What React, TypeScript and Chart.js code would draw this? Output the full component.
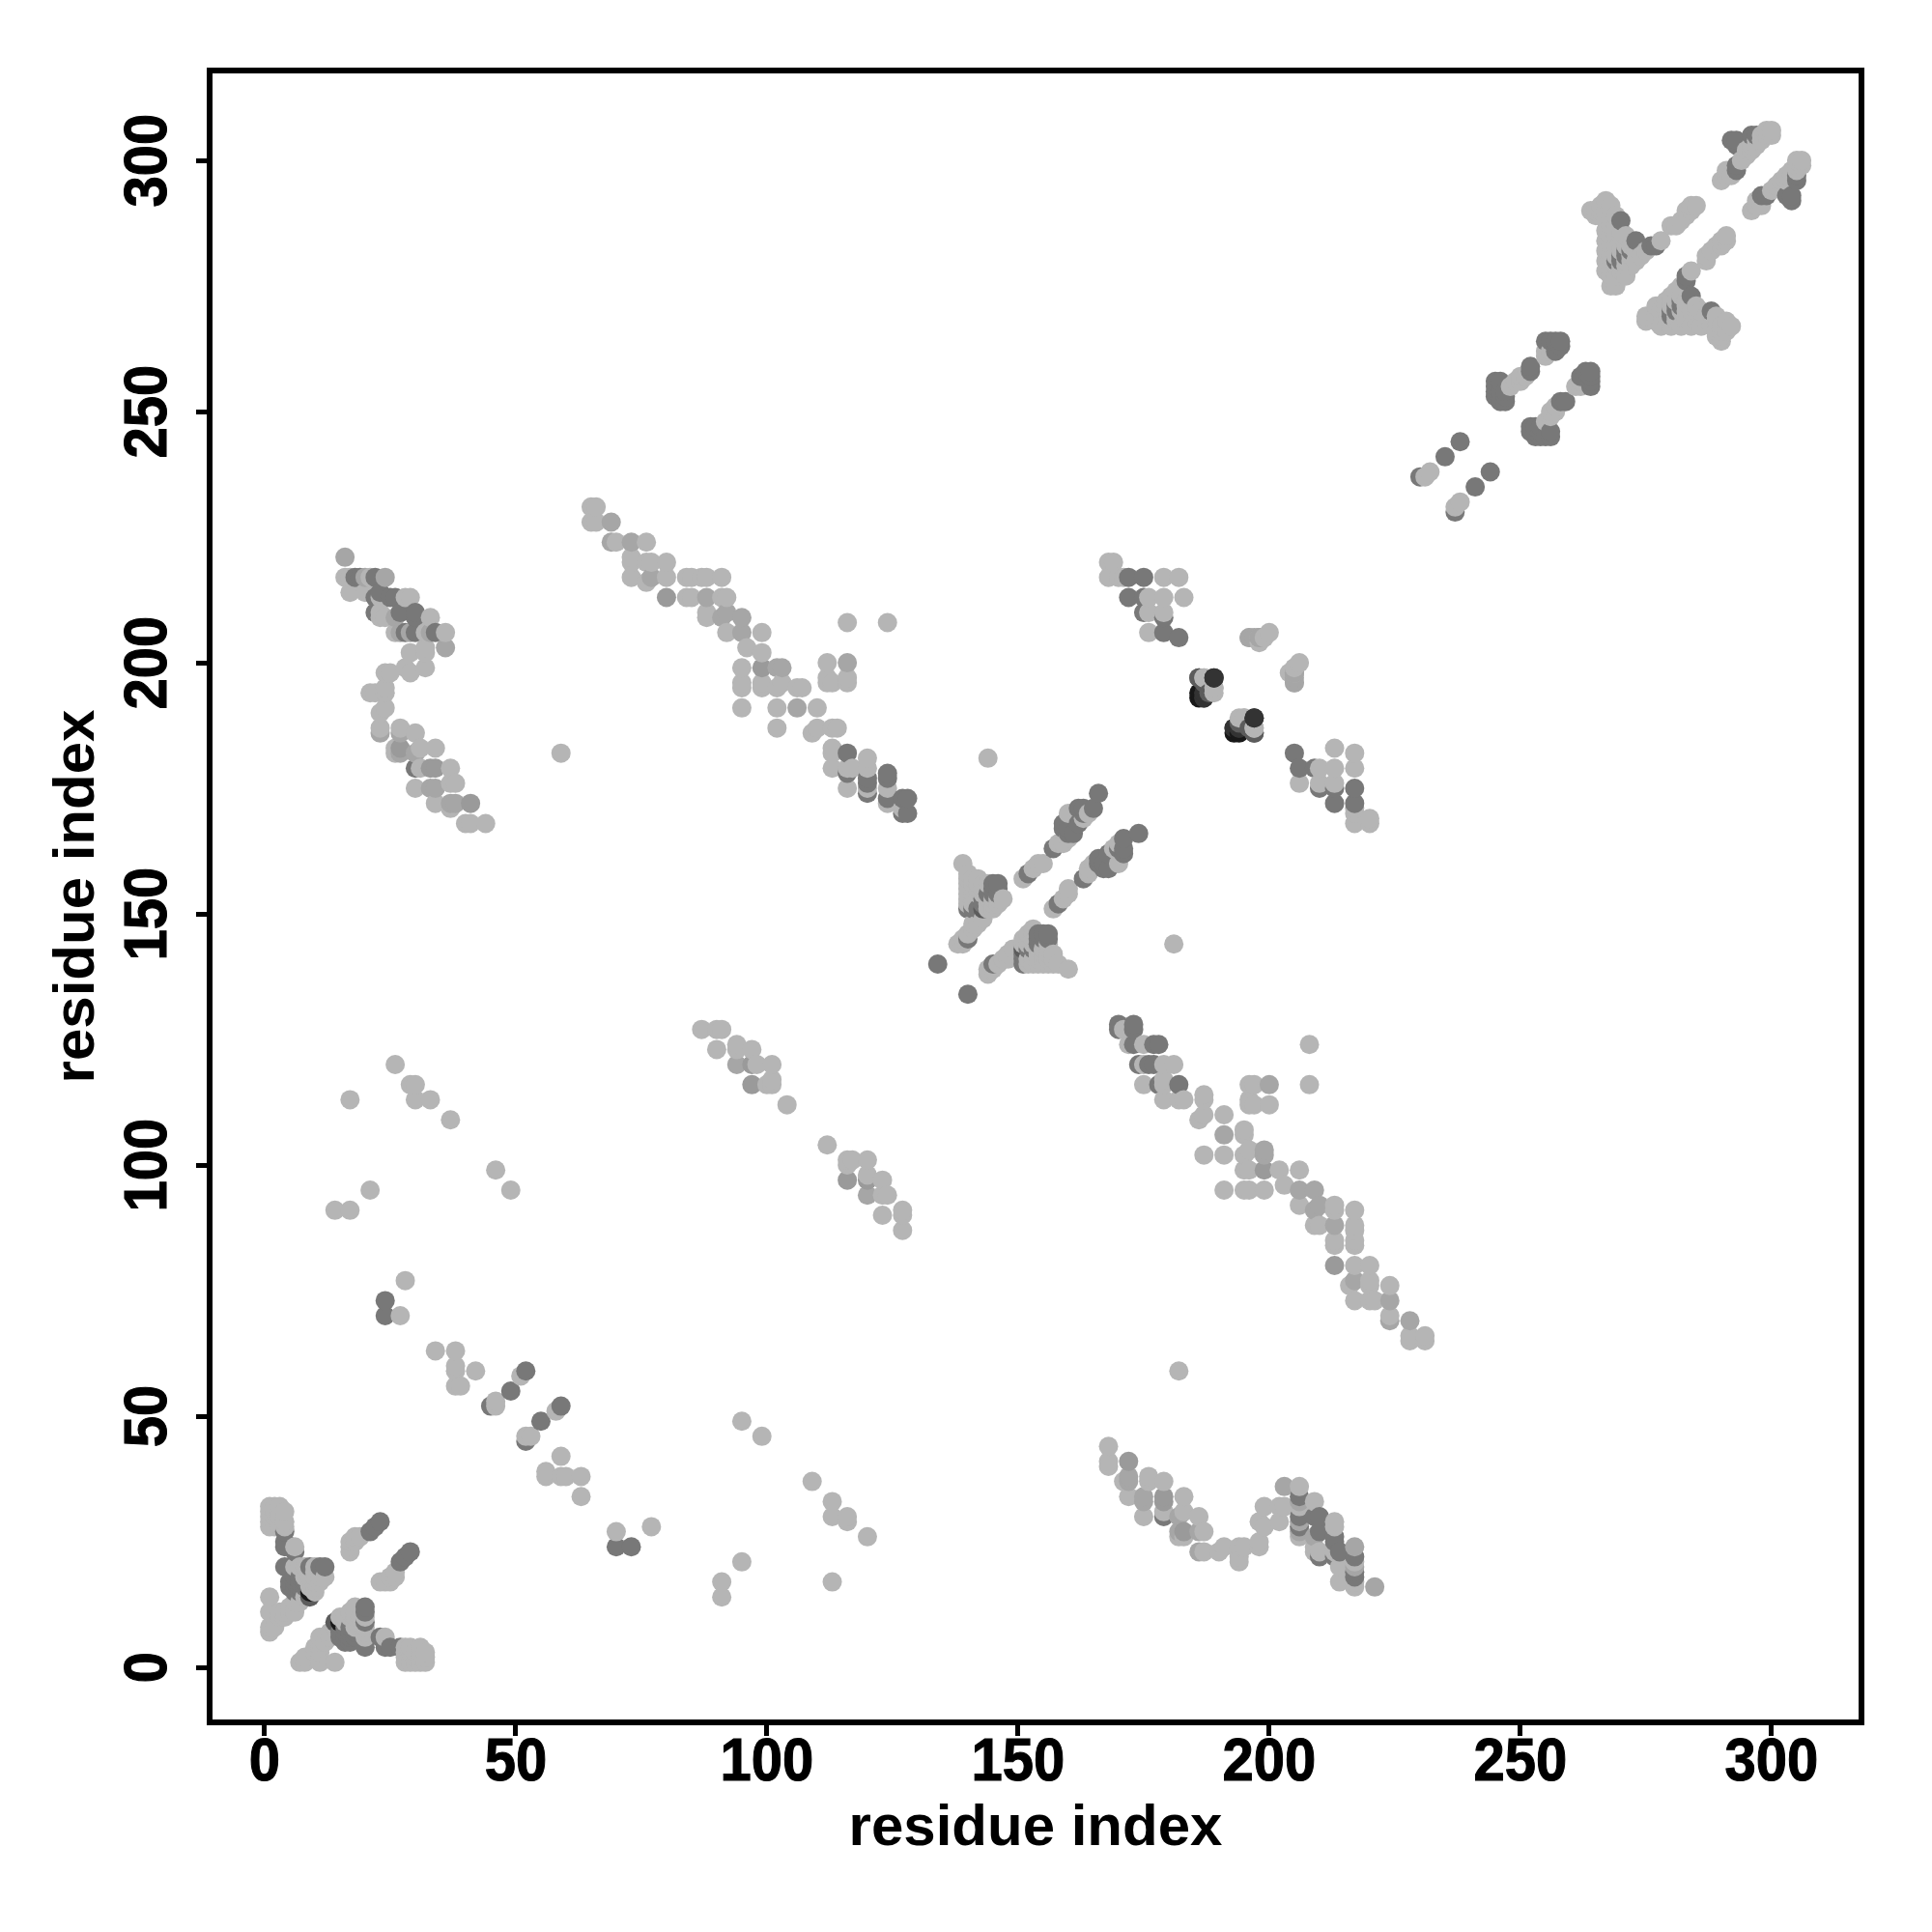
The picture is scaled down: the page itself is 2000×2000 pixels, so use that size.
import React, { useEffect, useRef } from "react";
import { Chart, registerables } from "chart.js";

Chart.register(...registerables);

const tickValues = [0, 50, 100, 150, 200, 250, 300];
const axisTitle = "residue index";

const lightPairs = [
  [1,28],[1,29],[1,30],[1,31],[1,32],[2,28],[2,29],[2,30],[2,31],[2,32],[3,28],[3,29],[3,30],[3,31],[3,32],[4,28],[4,29],[4,31],
  [1,7],[1,8],[1,11],[1,14],[2,8],[3,10],[3,11],[4,10],[4,11],[5,11],[6,11],[5,12],[6,13],[7,13],[8,14],[9,16],[10,15],[10,16],[10,17],[11,17],
  [8,18],[9,18],[10,18],[11,18],[12,18],[10,19],[6,20],[7,20],[8,20],[10,20],[6,24],
  [17,23],[17,24],[17,25],[18,25],[18,26],[19,26],
  [38,59],[38,60],[42,59],[38,56],[39,56],[51,58],[46,53],[46,52],[27,70],[28,77],[34,63],[38,63],
  [14,91],[17,91],[21,95],[17,113],[26,120],[29,116],[30,116],[30,113],[33,113],[37,109],[46,99],[49,95],[59,182],[144,181],[124,208],[116,208],
  [87,127],[90,127],[91,127],[90,123],[94,124],[94,123],[97,123],[98,120],[101,120],[101,117],[101,116],[100,116],[104,112],
  [127,171],[124,172],[124,175],[120,175],[120,179],[120,181],[116,175],[117,179],[116,179],[113,179],[113,182],[113,183],
  [114,187],[113,187],[110,187],[109,186],[110,191],[107,195],[106,195],[102,187],[102,191],[102,195],[103,196],[99,195],[99,196],[99,202],[99,206],
  [95,191],[95,195],[95,196],[95,199],[96,203],[92,206],[92,213],[91,213],[91,217],[88,209],[88,210],[88,217],[85,213],[84,213],[87,217],[85,217],[84,217],
  [80,217],[80,220],[76,216],[77,220],[76,220],[76,224],[73,217],[73,220],[73,221],[70,224],[66,228],[65,228],[66,231],[65,231],
  [116,196],[116,197],[113,196],[112,196],[112,197],[112,200],
  [44,168],[41,168],[40,168],[37,171],[34,172],[38,176],[37,176],[30,175],[37,179],[31,179],[34,183],[31,183],[26,183],[26,182],[30,186],[27,187],[23,187],[23,190],[24,191],
  [24,194],[21,194],[22,194],[24,195],[25,198],[24,198],[29,198],[28,199],[32,199],[32,202],[32,203],[29,202],[36,206],[32,206],[26,206],[33,209],[24,209],[23,209],[23,210],[29,213],[28,213],[23,213],[20,214],[17,214],[21,217],[16,217],[17,217],
  [139,160],[140,157],[141,157],[142,157],[140,156],[141,156],[142,156],[140,155],[141,155],[142,155],[140,154],[141,154],[142,154],[140,153],[141,153],[140,152],[141,152],[144,151],[144,152],[145,151],[144,153],[145,153],[147,153],[146,152],[146,153],[143,156],[143,155],[143,154],[158,140],
  [138,144],[139,145],[139,144],[140,146],[141,147],[141,148],[142,148],[143,149],[151,157],[153,159],[154,160],[155,160],[158,164],[159,164],[160,165],[160,170],[163,169],[164,170],
  [144,156],[145,152],
  [168,220],[169,220],[168,217],[171,217],[179,217],[182,217],[179,213],[183,213],[176,210],[179,210],[176,213],[176,206],[187,197],[189,195],[194,189],
  [195,189],[196,205],[198,205],[200,206],[198,204],[199,205],[170,217],[197,187],
  [231,237],[232,238],[248,255],[249,256],[250,256],[250,257],[251,257],[255,261],[255,262],[256,262],
  [264,290],[265,289],[265,290],[266,290],[267,292],[266,291],[268,291],[266,289],[267,290],[267,288],[267,286],[267,284],[267,282],[267,280],[267,278],
  [268,289],[268,287],[268,285],[268,283],[268,281],[268,279],[268,277],[268,275],[269,289],[269,287],[269,285],[269,283],[269,281],[269,279],[269,277],[269,275],
  [270,286],[270,285],[270,284],[270,283],[270,282],[270,279],[270,278],[271,285],[271,283],[271,280],[271,279],[271,277],[272,283],[272,281],[272,280],[272,279],[273,282],[273,280],[274,281],[275,282],[278,284],
  [281,287],[282,288],[283,289],[284,290],[285,291],[283,290],[284,291],[280,287],[290,296],[291,297],[291,298],[292,297],[294,300],[295,301],[295,302],[296,302],[296,303],[297,303],[297,304],[298,305],[299,306],[300,306],[300,305],[299,305],[298,304],
];

const midPairs = [
  [36,203],[38,172],[37,172],[34,175],[33,175],[30,182],[27,182],[27,186],[23,186],[33,206],[29,206],[27,206],[26,209],[24,217],[20,217],
  [94,120],[106,191],[103,199],[102,199],[95,206],[95,209],[92,210],[91,209],[88,213],[77,217],[73,224],[69,224],[69,228],[116,200],[16,221],
  [196,205],[197,205],[205,198],[198,205],
];

const midDarkPairs = [[97,116],[97,120],[99,199],[41,172],[34,179],[33,179],[27,183],[80,213]];

const darkPairs = [
  [4,20],[4,24],[4,27],[9,20],[11,20],[12,20],[6,23],[4,25],[5,17],[6,17],[7,17],[6,18],[7,18],[8,16],[8,17],[5,16],[6,16],[7,16],[6,15],[7,15],
  [21,27],[22,28],[23,29],[52,59],[49,55],[45,52],[24,70],[24,73],
  [128,170],[127,170],[128,173],[127,173],[124,173],[124,177],[124,178],[120,174],[120,176],[120,177],[116,178],[116,182],
  [30,179],[34,206],[30,206],[28,206],[30,209],[30,210],[27,210],[22,210],[26,213],[25,213],[22,213],[23,214],[22,217],[18,217],[19,217],
  [134,140],[140,151],[141,151],[142,151],[143,152],[143,153],[145,156],[146,156],[145,155],[146,155],[146,154],[145,154],[144,154],
  [140,145],[152,158],[157,163],[159,167],[160,167],[159,168],[162,168],[161,166],[162,171],[163,171],[165,171],[163,170],[166,174],[160,166],
  [172,217],[175,217],[172,213],[175,213],[175,210],[179,209],[179,206],[182,205],
  [230,237],[235,241],[238,244],[245,253],[245,254],[245,255],[245,256],[246,252],[246,256],[247,252],[252,258],[252,259],[255,264],[256,264],[257,264],[258,264],[258,263],[257,262],[246,253],[247,253],[246,254],[247,254],
  [270,288],[273,284],[276,283],[269,280],[270,281],[271,281],[271,282],[272,282],[270,280],[283,277],
  [293,304],[292,304],[296,305],[297,305],[293,299],[293,298],[293,303],
];

const darkerPairs = [[9,14],[186,197],[188,194],[196,187],[197,186],[143,151]];

const charcoalPairs = [[189,197],[187,193],[187,194],[197,189],[194,187],[193,187]];

const blackPairs = [[9,15],[186,193],[186,194]];

const shades: [string, number[][]][] = [
  ["#b5b5b5", lightPairs],
  ["#a6a6a6", midPairs],
  ["#9a9a9a", midDarkPairs],
  ["#787878", darkPairs],
  ["#5c5c5c", darkerPairs],
  ["#333333", charcoalPairs],
  ["#181818", blackPairs],
];

const contacts: { x: number; y: number; c: string }[] = [];
for (const [c, pairs] of shades) {
  for (const [a, b] of pairs) {
    contacts.push({ x: a, y: b, c });
    contacts.push({ x: b, y: a, c });
  }
}
contacts.sort((p, q) => p.x - q.x || p.y - q.y);

const FAMILY = "'Liberation Sans', Arial, sans-serif";
const TICK_SIZE = 58;
const TITLE_FONT = { family: FAMILY, weight: "bold" as const, size: 60 };

const framePlugin = {
  id: "frame",
  afterDatasetsDraw(chart: any) {
    const { ctx, chartArea: a, scales } = chart;
    ctx.save();
    ctx.strokeStyle = "#000";
    ctx.lineWidth = 6;
    ctx.strokeRect(a.left, a.top, a.right - a.left, a.bottom - a.top);
    ctx.fillStyle = "#000";
    ctx.font = `bold ${TICK_SIZE}px ${FAMILY}`;
    ctx.textAlign = "center";
    ctx.textBaseline = "alphabetic";
    ctx.lineWidth = 1;
    for (const v of tickValues) {
      ctx.save();
      ctx.translate(172, scales.y.getPixelForValue(v));
      ctx.rotate(-Math.PI / 2);
      ctx.scale(1, 1.08);
      ctx.fillText(String(v), 0, 0);
      ctx.strokeText(String(v), 0, 0);
      ctx.restore();
      ctx.save();
      ctx.translate(scales.x.getPixelForValue(v), 1843);
      ctx.scale(1, 1.08);
      ctx.fillText(String(v), 0, 0);
      ctx.strokeText(String(v), 0, 0);
      ctx.restore();
    }
    ctx.restore();
  },
};

export default function App() {
  const ref = useRef<HTMLCanvasElement>(null);
  useEffect(() => {
    const setTicks = (s: any) => {
      s.ticks = tickValues.map((value) => ({ value }));
    };
    const grid = { drawOnChartArea: false, drawTicks: true, tickLength: 14, lineWidth: 5, color: "#000" };
    const chart = new Chart(ref.current!, {
      type: "scatter",
      data: {
        datasets: [
          {
            data: contacts.map((p) => ({ x: p.x, y: p.y })),
            pointRadius: 10,
            pointBorderWidth: 0,
            pointBackgroundColor: contacts.map((p) => p.c),
            pointHoverRadius: 10,
          },
        ],
      },
      options: {
        animation: false,
        responsive: false,
        layout: { padding: { top: 73, right: 73, left: 0, bottom: 0 } },
        plugins: { legend: { display: false }, tooltip: { enabled: false } },
        scales: {
          x: {
            type: "linear",
            min: -10.95,
            max: 317.9,
            afterBuildTicks: setTicks,
            afterFit: (s: any) => { s.height = 217; },
            grid,
            border: { display: false },
            ticks: { display: false },
            title: { display: true, text: axisTitle, color: "#000", font: TITLE_FONT, padding: 71 },
          },
          y: {
            type: "linear",
            min: -10.96,
            max: 317.9,
            afterBuildTicks: setTicks,
            afterFit: (s: any) => { s.width = 217; },
            grid,
            border: { display: false },
            ticks: { display: false },
            title: { display: true, text: axisTitle, color: "#000", font: TITLE_FONT, padding: 44 },
          },
        },
      },
      plugins: [framePlugin],
    } as any);
    return () => chart.destroy();
  }, []);
  return (
    <div style={{ position: "absolute", left: 0, top: 0, width: 2000, height: 2000, background: "#fff" }}>
      <canvas ref={ref} width={2000} height={2000} style={{ display: "block" }} />
    </div>
  );
}
